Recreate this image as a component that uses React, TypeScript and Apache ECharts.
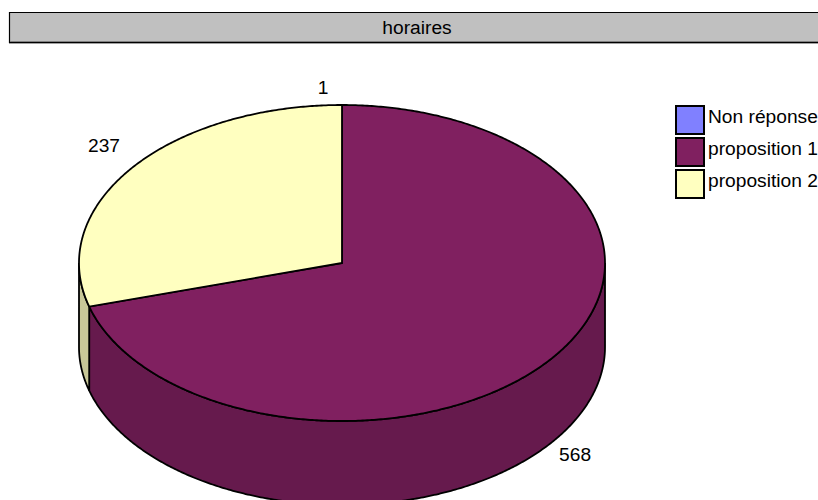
import React, { useEffect, useRef } from "react";
import * as echarts from "echarts";

const chartTitle = "horaires";
const categories = ["Non réponse", "proposition 1", "proposition 2"];
const values = [1, 568, 237];
const topColors = ["#8080ff", "#802060", "#ffffc0"];
const sideColors = ["#6060bf", "#661a4d", "#c8c898"];

const FONT = "'Liberation Sans', Arial, sans-serif";
const FONT_SIZE = 19.2;
const CX = 342;
const CY = 263;
const RX = 263;
const RY = 158;
const DEPTH = 84;
const LABEL_NUDGE = [
  [-19, -18],
  [23, 12],
  [-28, -22],
];

const total = values.reduce((a, b) => a + b, 0);
// The original renderer snaps each slice to whole degrees, which hides the 1-vote slice.
const sweeps = values.map((v) => Math.round((v / total) * 360));

function pt(deg: number, dy = 0): number[] {
  const r = (deg * Math.PI) / 180;
  return [CX + RX * Math.sin(r), CY - RY * Math.cos(r) + dy];
}

function arc(a0: number, a1: number, dy = 0): number[][] {
  const n = Math.max(1, Math.ceil((a1 - a0) / 0.5));
  const pts: number[][] = [];
  for (let i = 0; i <= n; i++) pts.push(pt(a0 + ((a1 - a0) * i) / n, dy));
  return pts;
}

function renderSlice(index: number) {
  return (_params: any, api: any) => {
    const value = api.value(0);
    const a0 = sweeps.slice(0, index).reduce((a, b) => a + b, 0);
    const a1 = a0 + sweeps[index];
    const children: any[] = [];
    const s0 = Math.max(a0, 90);
    const s1 = Math.min(a1, 270);
    if (s1 > s0) {
      children.push({
        type: "polygon",
        shape: { points: [...arc(s0, s1), ...arc(s0, s1, DEPTH).reverse()] },
        style: { fill: sideColors[index], stroke: "#000", lineWidth: 1.8 },
      });
    }
    if (a1 > a0) {
      children.push({
        type: "polygon",
        shape: { points: [[CX, CY], ...arc(a0, a1)] },
        style: { fill: topColors[index], stroke: "#000", lineWidth: 1.8 },
      });
    }
    const mid = (a0 + a1) / 2;
    const base = pt(mid, Math.cos((mid * Math.PI) / 180) < 0 ? DEPTH : 0);
    children.push({
      type: "text",
      x: base[0] + LABEL_NUDGE[index][0],
      y: base[1] + LABEL_NUDGE[index][1],
      style: {
        text: String(value),
        fill: "#000",
        font: `${FONT_SIZE}px ${FONT}`,
        textAlign: "center",
        textVerticalAlign: "middle",
      },
    });
    return { type: "group", children };
  };
}

export default function App() {
  const ref = useRef<HTMLDivElement>(null);
  useEffect(() => {
    const chart = echarts.init(ref.current!, null, { renderer: "svg" });
    chart.setOption({
      animation: false,
      backgroundColor: "#fff",
      title: {
        text: chartTitle,
        left: 417,
        top: 27,
        textAlign: "center",
        textVerticalAlign: "middle",
        padding: 0,
        textStyle: { fontFamily: FONT, fontSize: FONT_SIZE, fontWeight: "normal", color: "#000" },
      },
      legend: {
        left: 675,
        top: 105,
        orient: "vertical",
        padding: 0,
        itemWidth: 28,
        itemHeight: 28,
        itemGap: 2,
        selectedMode: false,
        icon: "rect",
        data: categories,
        formatter: "{t|{name}}{s| }",
        textStyle: {
          fontFamily: FONT,
          fontSize: FONT_SIZE,
          color: "#000",
          padding: [0, 0, 0, -1],
          rich: {
            t: { fontFamily: FONT, fontSize: FONT_SIZE, color: "#000", height: 22, verticalAlign: "top" },
            s: { fontFamily: FONT, fontSize: FONT_SIZE, height: 30, width: 1 },
          },
        },
      },
      graphic: [
        {
          type: "rect",
          z: -1,
          silent: true,
          shape: { x: 9.5, y: 12.5, width: 830, height: 30 },
          style: { fill: "#c0c0c0", stroke: "#000", lineWidth: 1.2 },
        },
        {
          type: "line",
          z: -1,
          silent: true,
          shape: { x1: 10, y1: 41.5, x2: 818, y2: 41.5 },
          style: { stroke: "#808080", lineWidth: 1 },
        },
        {
          type: "line",
          z: -1,
          silent: true,
          shape: { x1: 9, y1: 43.5, x2: 818, y2: 43.5 },
          style: { stroke: "#a0a0a0", lineWidth: 1 },
        },
      ],
      series: categories.map((name, i) => ({
        type: "custom",
        name,
        coordinateSystem: "none",
        silent: true,
        data: [[values[i]]],
        itemStyle: { color: topColors[i], borderColor: "#000", borderWidth: 2 },
        renderItem: renderSlice(i),
      })),
    });
    return () => chart.dispose();
  }, []);
  return (
    <div
      ref={ref}
      style={{ position: "fixed", left: 0, top: 0, width: 818, height: 500, overflow: "hidden" }}
    />
  );
}
